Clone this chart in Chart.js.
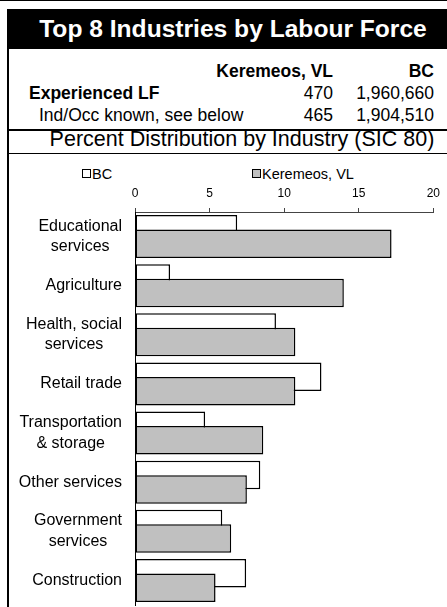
<!DOCTYPE html>
<html>
<head>
<meta charset="utf-8">
<script src="https://cdn.jsdelivr.net/npm/chart.js@4/dist/chart.umd.min.js"></script>
<style>
  body { margin: 0; width: 447px; height: 607px; overflow: hidden; background: #fff; position: relative;
         font-family: "Liberation Sans", Arial, sans-serif; color: #000; }
  .abs { position: absolute; white-space: nowrap; }
  .rt { text-align: right; width: 300px; }
  .row { font-size: 17.5px; line-height: 20px; height: 20px; }
  .b { font-weight: bold; }
  .box { position: absolute; width: 9px; height: 9px; box-sizing: border-box; border: 1.5px solid #000; }
  .leg { font-size: 14.5px; line-height: 16px; }
  #chartWrap { position: absolute; left: 9px; top: 155px; width: 438px; height: 452px; }
</style>
</head>
<body>
  <div class="abs" style="left:0;top:0;width:447px;height:1px;background:#000"></div>
  <div class="abs" style="left:7px;top:9px;width:2px;height:600px;background:#000"></div>
  <div class="abs" style="left:8px;top:9px;width:460px;height:40px;background:#000"></div>
  <div class="abs b" style="left:0;top:9px;width:466px;text-align:center;color:#fff;font-size:24.6px;line-height:40px">Top 8 Industries by Labour Force</div>

  <div class="abs row rt b" style="left:33px;top:61px">Keremeos, VL</div>
  <div class="abs row rt b" style="left:134px;top:61px">BC</div>
  <div class="abs row b" style="left:29px;top:83px">Experienced LF</div>
  <div class="abs row rt" style="left:33px;top:83px">470</div>
  <div class="abs row rt" style="left:134px;top:83px">1,960,660</div>
  <div class="abs row" style="left:39px;top:105px">Ind/Occ known, see below</div>
  <div class="abs row rt" style="left:33px;top:105px">465</div>
  <div class="abs row rt" style="left:134px;top:105px">1,904,510</div>

  <div class="abs" style="left:8px;top:129px;width:460px;height:2px;background:#000"></div>
  <div class="abs" style="left:0;top:128px;width:484px;text-align:center;font-size:21.5px;line-height:22px">Percent Distribution by Industry (SIC 80)</div>
  <div class="abs" style="left:8px;top:153px;width:460px;height:1px;background:#000"></div>

  <div class="box" style="left:82px;top:169px;background:#fff"></div>
  <div class="abs leg" style="left:92px;top:166px">BC</div>
  <div class="box" style="left:252px;top:169px;background:#c0c0c0"></div>
  <div class="abs leg" style="left:262px;top:166px">Keremeos, VL</div>

  <div id="chartWrap"><canvas id="chart" width="438" height="452"></canvas></div>

<script>
  // percent of labour force with industry known
  const industries = [
    ["Educational", "services"],
    "Agriculture",
    ["Health, social", "services"],
    "Retail trade",
    ["Transportation", "& storage"],
    "Other services",
    ["Government", "services"],
    "Construction"
  ];
  const bcPct = [6.85, 2.35, 9.45, 12.5, 4.7, 8.4, 5.85, 7.45];
  const keremeosPct = [17.2, 14.0, 10.75, 10.75, 8.6, 7.5, 6.45, 5.4];
  const axisMin = 0;
  const axisMax = 20;
  const axisStep = 5;

  const FONT = "'Liberation Sans', Arial, sans-serif";

  // BC sits at the top of each pair but must be drawn behind Keremeos
  const drawOrder = {
    id: "drawOrder",
    beforeDatasetsDraw(chart) {
      chart.getDatasetMeta(0).controller.draw();
      chart.getDatasetMeta(1).controller.draw();
      return false;
    }
  };

  // category labels: block right aligned, lines centred inside the block
  const catLabels = {
    id: "catLabels",
    afterDraw(chart) {
      const ctx = chart.ctx;
      const yScale = chart.scales.y;
      const right = chart.chartArea.left - 13;
      const lh = 20.5;
      ctx.save();
      ctx.font = "16px " + FONT;
      ctx.fillStyle = "#000";
      ctx.textAlign = "center";
      ctx.textBaseline = "middle";
      chart.data.labels.forEach((lab, i) => {
        const lines = Array.isArray(lab) ? lab : [lab];
        const w = Math.max(...lines.map(l => ctx.measureText(l).width));
        const y = yScale.getPixelForValue(i);
        lines.forEach((l, j) => {
          ctx.fillText(l, right - w / 2, y + (j - (lines.length - 1) / 2) * lh);
        });
      });
      ctx.restore();
    }
  };

  new Chart(document.getElementById("chart"), {
    type: "bar",
    data: {
      labels: industries,
      datasets: [
        {
          label: "BC",
          data: bcPct,
          backgroundColor: "#ffffff",
          borderColor: "#000000",
          borderWidth: 1.5,
          borderSkipped: false,
          categoryPercentage: 0.59,
          barPercentage: 1.97
        },
        {
          label: "Keremeos, VL",
          data: keremeosPct,
          backgroundColor: "#c0c0c0",
          borderColor: "#000000",
          borderWidth: 1.5,
          borderSkipped: false,
          categoryPercentage: 0.59,
          barPercentage: 1.97
        }
      ]
    },
    options: {
      indexAxis: "y",
      responsive: false,
      animation: false,
      devicePixelRatio: 1,
      layout: { padding: { left: 0, right: 7.5, top: 0, bottom: 2 } },
      plugins: {
        legend: { display: false },
        tooltip: { enabled: false }
      },
      scales: {
        x: {
          position: "top",
          min: axisMin,
          max: axisMax,
          ticks: {
            stepSize: axisStep,
            color: "#000",
            padding: 7,
            font: { family: FONT, size: 12 }
          },
          grid: {
            drawOnChartArea: false,
            drawTicks: true,
            tickLength: 4,
            color: "#444"
          },
          border: { color: "#444", width: 1 },
          afterFit(scale) { scale.height = 57; }
        },
        y: {
          ticks: { display: false },
          grid: { display: false },
          border: { color: "#000", width: 1 },
          afterFit(scale) { scale.width = 126; }
        }
      }
    },
    plugins: [drawOrder, catLabels]
  });
</script>
</body>
</html>
